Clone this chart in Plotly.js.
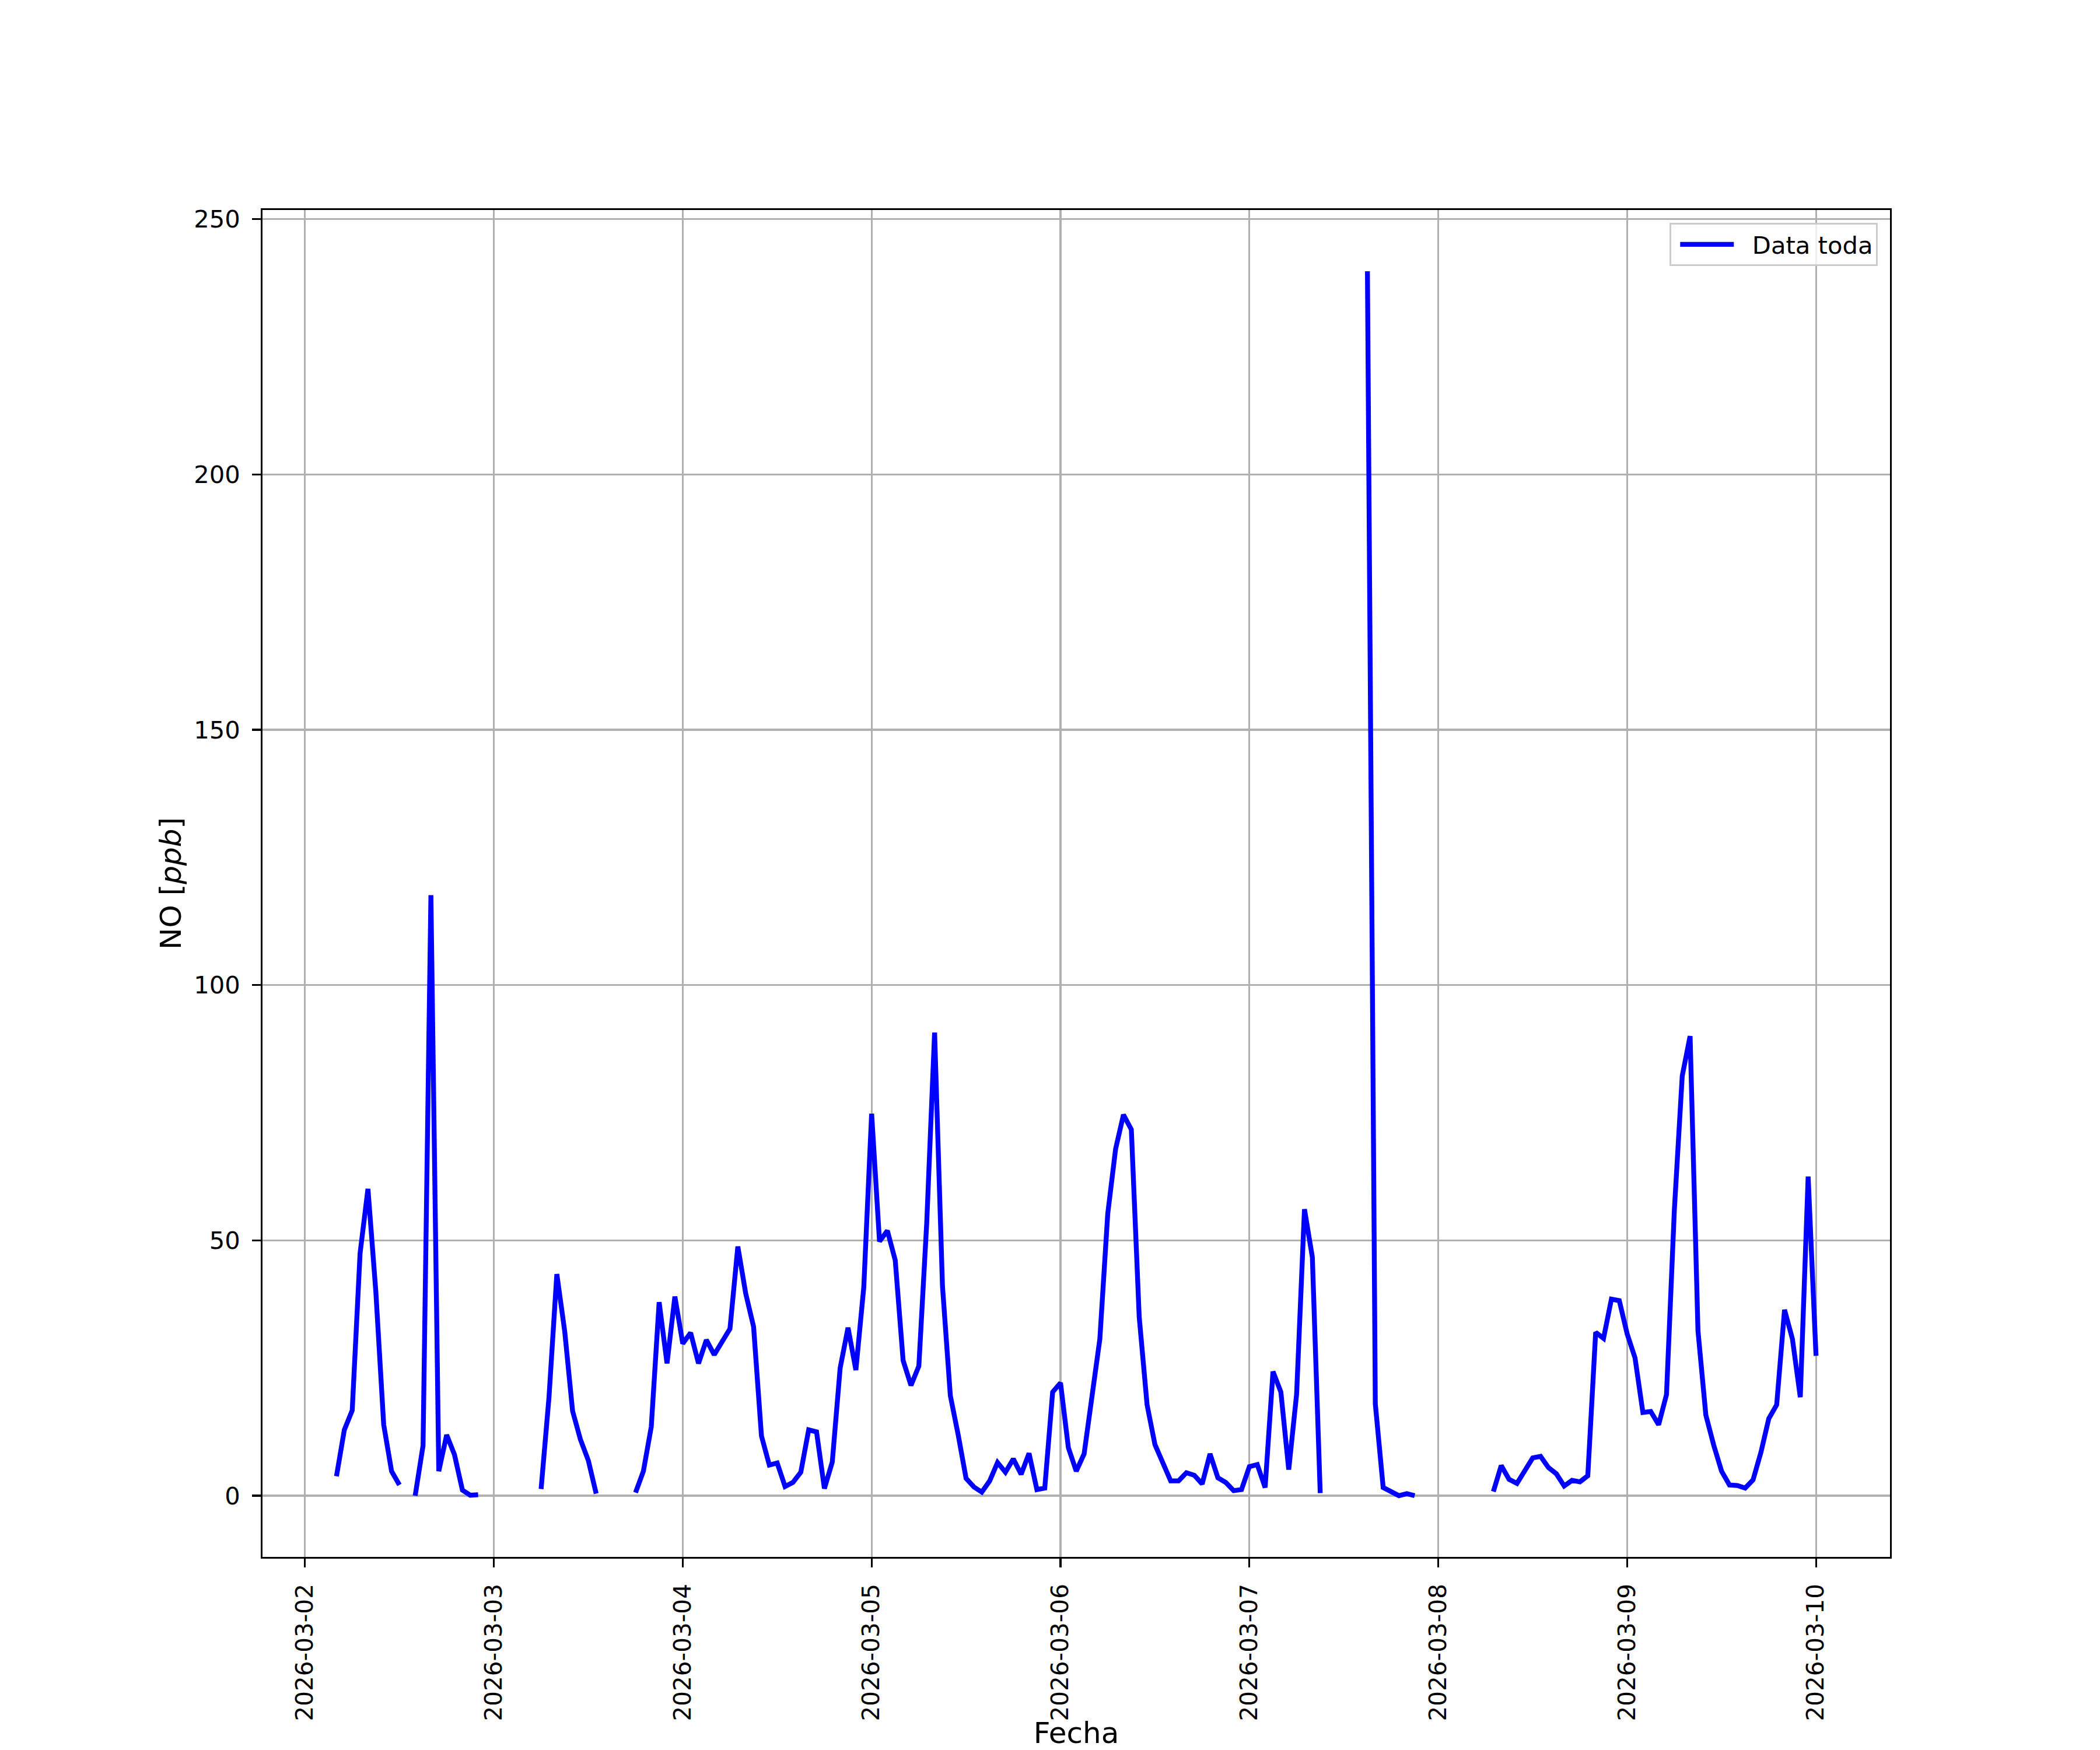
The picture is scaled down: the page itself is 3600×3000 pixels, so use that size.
<!DOCTYPE html>
<html>
<head>
<meta charset="utf-8">
<script src="https://cdn.plot.ly/plotly-3.0.1.min.js"></script>
<style>html,body{margin:0;padding:0;background:#fff;}</style>
</head>
<body>
<div id="chart" style="width:3600px;height:3000px;"></div>
<script>
// Dates (one array of 24 hourly values per day; null = missing)
const days = ['2026-03-02','2026-03-03','2026-03-04','2026-03-05','2026-03-06','2026-03-07','2026-03-08','2026-03-09','2026-03-10'];
const no_0302 = [null,null,null,null,3.8,12.9,16.7,47.5,60.1,40.0,13.9,4.8,2.1,null,0.0,9.8,117.6,4.8,11.9,8.0,1.1,0.1,0.2,null];
const no_0303 = [null,null,null,null,null,null,1.3,19.2,43.4,32.2,16.6,11.0,6.9,0.4,null,null,null,null,0.6,4.8,13.5,37.9,25.9,39.0];
const no_0304 = [29.8,31.9,25.9,30.5,27.6,30.2,32.7,48.8,39.6,33.1,11.7,6.0,6.4,1.8,2.6,4.6,12.9,12.5,1.4,6.6,25.0,32.9,24.6,40.8];
const no_0305 = [74.8,49.8,51.9,46.1,26.5,21.6,25.4,53.4,90.7,41.1,19.6,11.9,3.4,1.7,0.7,2.9,6.5,4.6,7.2,4.2,8.3,1.2,1.5,20.3];
const no_0306 = [22.1,9.4,4.8,8.2,19.4,30.7,55.2,67.9,74.6,71.7,35.0,17.8,10.0,6.2,2.9,2.9,4.5,4.0,2.3,8.2,3.5,2.6,1.0,1.2];
const no_0307 = [5.7,6.1,1.6,24.3,20.3,5.1,19.9,56.1,46.7,0.5,null,null,null,null,null,239.8,18.0,1.6,0.8,0.0,0.4,0.0,null,null];
const no_0308 = [null,null,null,null,null,null,null,0.8,5.9,3.2,2.4,4.9,7.4,7.7,5.5,4.3,1.9,3.0,2.7,3.9,32.0,30.8,38.5,38.2];
const no_0309 = [31.7,27.0,16.3,16.5,13.9,19.8,56.0,82.2,90.0,32.3,15.8,9.9,4.8,2.1,2.0,1.5,3.1,8.5,15.1,17.8,36.4,30.7,19.3,62.5];
const no_0310 = [27.4];
const yTicks = [0,50,100,150,200,250];
const seriesName = 'Data toda';

const perDay = [no_0302,no_0303,no_0304,no_0305,no_0306,no_0307,no_0308,no_0309,no_0310];
const xs = [], ys = [];
perDay.forEach((arr, d) => {
  arr.forEach((v, h) => {
    xs.push(days[d] + ' ' + String(h).padStart(2,'0') + ':00');
    ys.push(v);
  });
});

const FONT = 'DejaVu Sans, Liberation Sans, sans-serif';
const trace = {
  x: xs, y: ys, type: 'scatter', mode: 'lines',
  name: '\u00a0\u00a0' + seriesName,
  connectgaps: false,
  line: {color: '#0000ff', width: 8.33},
  showlegend: true
};

const layout = {
  width: 3600, height: 3000,
  paper_bgcolor: '#ffffff', plot_bgcolor: '#ffffff',
  margin: {l: 450, r: 360, t: 360, b: 331, pad: 0},
  font: {family: FONT, size: 41.7, color: '#000000'},
  showlegend: true,
  xaxis: {
    type: 'date',
    range: ['2026-03-01 18:36', '2026-03-10 09:24'],
    tickvals: days, ticktext: days,
    tickangle: -90,
    tickfont: {family: FONT, size: 40.5, color: '#000'},
    ticks: 'outside', ticklen: 14.6, tickwidth: 3.3, tickcolor: '#000',
    ticklabelstandoff: 12,
    showline: true, linecolor: '#000', linewidth: 3.3, mirror: true,
    showgrid: true, gridcolor: '#b0b0b0', gridwidth: 3.3,
    zeroline: false, automargin: false,
    title: {text: 'Fecha', font: {family: FONT, size: 50, color: '#000'}, standoff: 33}
  },
  yaxis: {
    range: [-11.99, 251.79],
    tickvals: yTicks, ticktext: yTicks.map(String),
    tickfont: {family: FONT, size: 41.7, color: '#000'},
    ticks: 'outside', ticklen: 14.6, tickwidth: 3.3, tickcolor: '#000',
    ticklabelstandoff: 12,
    showline: true, linecolor: '#000', linewidth: 3.3, mirror: true,
    showgrid: true, gridcolor: '#b0b0b0', gridwidth: 3.3,
    zeroline: false, automargin: false,
    title: {text: 'NO [<i>ppb</i>]', font: {family: FONT, size: 50, color: '#000'}, standoff: 6}
  },
  legend: {
    x: 1 - 21/2790, xanchor: 'right',
    y: 1 - 22/2308, yanchor: 'top',
    bgcolor: 'rgba(255,255,255,0.8)',
    bordercolor: '#cccccc', borderwidth: 3.3,
    font: {family: FONT, size: 41.7, color: '#000'},
    itemwidth: 92,
    indentation: 10
  }
};

Plotly.newPlot('chart', [trace], layout, {displayModeBar: false, staticPlot: true});
</script>
</body>
</html>
